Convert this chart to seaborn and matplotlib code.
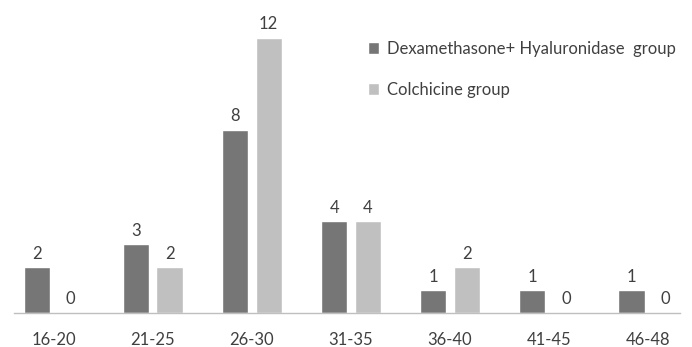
import matplotlib
matplotlib.use("Agg")
import matplotlib.pyplot as plt
import seaborn as sns
import pandas as pd

age_groups = ["16-20", "21-25", "26-30", "31-35", "36-40", "41-45", "46-48"]
dexa_hyal = [2, 3, 8, 4, 1, 1, 1]
colchicine = [0, 2, 12, 4, 2, 0, 0]
series_names = ["Dexamethasone+ Hyaluronidase  group", "Colchicine group"]
series_colors = ["#767676", "#c0c0c0"]

df = pd.DataFrame({
    "age": age_groups * 2,
    "count": dexa_hyal + colchicine,
    "group": [series_names[0]] * len(age_groups) + [series_names[1]] * len(age_groups),
})

sns.set_theme(style="white")
plt.rcParams["font.family"] = ["Lato", "DejaVu Sans"]

W, H = 692, 347
fig = plt.figure(figsize=(W / 100, H / 100), dpi=100)
ax = fig.add_axes([14 / W, 34 / H, 666 / W, 298 / H])

sns.barplot(data=df, x="age", y="count", hue="group", order=age_groups,
            hue_order=series_names, palette=series_colors, width=0.68, gap=0.22,
            saturation=1, ax=ax, legend=True)

for cont in ax.containers:
    ax.bar_label(cont, fmt="%d", padding=4, fontsize=12, color="#404040")

ax.set_xlim(-0.40, 6.32)
ax.set_ylim(0, 13)
ax.set_xlabel("")
ax.set_ylabel("")
ax.set_yticks([])
for side in ["top", "left", "right"]:
    ax.spines[side].set_visible(False)
ax.spines["bottom"].set_color("#bfbfbf")
ax.spines["bottom"].set_linewidth(1)
ax.tick_params(axis="x", length=0, pad=14, labelsize=12, labelcolor="#404040")

ax.legend(loc="upper left", bbox_to_anchor=(361 / W, 1 - 34 / H),
          bbox_transform=fig.transFigure, frameon=False, fontsize=12,
          handlelength=0.7, handleheight=0.7, handletextpad=0.45,
          labelspacing=1.5, labelcolor="#404040", borderaxespad=0)

fig.savefig("out.png", dpi=100, facecolor="white")
